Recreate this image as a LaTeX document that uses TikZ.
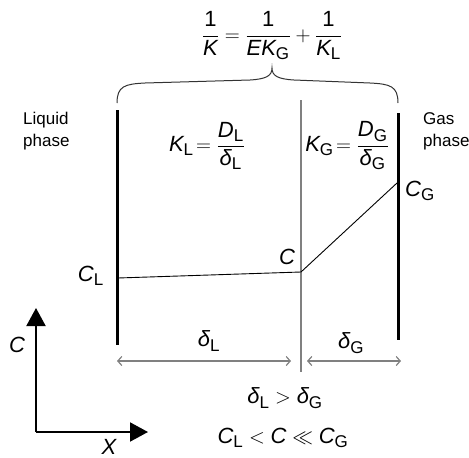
\documentclass[tikz,border=0pt]{standalone}
\usepackage{fontspec}
\setmainfont{Liberation Sans}
\usetikzlibrary{arrows.meta,positioning}
\DeclareMathSizes{22}{22}{17}{13}
\definecolor{filmgray}{HTML}{808080}
\definecolor{braceink}{HTML}{333333}
\newcommand{\dlt}{\mbox{\itshape δ}}
\tikzset{
  wall/.style={line width=3pt,draw=black},
  film/.style={line width=1.4pt,draw=filmgray},
  profile/.style={line width=0.9pt,draw=black},
  bracepath/.style={line width=1pt,draw=braceink},
  widtharr/.style={{Straight Barb[length=4pt,width=9pt]}-{Straight Barb[length=4pt,width=9pt]},
                   line width=1.2pt,draw=filmgray},
  axis/.style={-{Triangle[length=18pt,width=19pt]},line width=2pt,draw=black},
  phase/.style={align=left,font=\fontsize{17}{22}\selectfont,inner sep=0pt},
  lbl/.style={font=\fontsize{22}{26}\selectfont,inner sep=0pt}
}

\begin{document}
\begin{tikzpicture}[x=1pt,y=-1pt]
    \useasboundingbox (0,0) rectangle (469,458);

    \coordinate (ltop) at (117,110);
    \coordinate (lbot) at (117,345);
    \coordinate (rtop) at (398,113);
    \coordinate (rbot) at (398,340);
    \coordinate (mtop) at (301,100);
    \coordinate (mbot) at (301,372);
    \draw[wall] (ltop) -- (lbot);
    \draw[wall] (rtop) -- (rbot);
    \draw[film] (mtop) -- (mbot);

    \coordinate (pl) at (118,278);
    \coordinate (pc) at (301,272);
    \coordinate (pg) at (397,183);
    \draw[profile] (pl) -- (pc) -- (pg);

    \draw[bracepath] (117,103) .. controls (117,86) and (125,84) .. (145,83)
      -- (250,80) .. controls (266,79) and (272,76) .. (272,68)
      .. controls (272,76) and (278,79) .. (294,80)
      -- (370,83) .. controls (390,84) and (398,86) .. (398,103);

    \node[lbl] (overall) at (272,36)
      {$\displaystyle\frac{\mathrm{1}}{\mathit{K}}=\frac{\mathrm{1}}{\mathit{EK}_{\mathrm{G}}}+\frac{\mathrm{1}}{\mathit{K}_{\mathrm{L}}}$};
    \node[phase,anchor=west] (liquid) at (23,131) {Liquid\\phase};
    \node[phase,anchor=west] (gas) at (423,131) {Gas\\phase};
    \node[lbl] (kl) at (207,146)
      {$\displaystyle\mathit{K}_{\mathrm{L}}\!=\frac{\mathit{D}_{\mathrm{L}}}{\dlt_{\mathrm{L}}}$};
    \node[lbl] (kg) at (347,146)
      {$\displaystyle\mathit{K}_{\mathrm{G}}\!=\frac{\mathit{D}_{\mathrm{G}}}{\dlt_{\mathrm{G}}}$};
    \node[lbl,anchor=east] (cl) at (104,276) {$\mathit{C}_{\mathrm{L}}$};
    \node[lbl] (c) at (287,257) {$\mathit{C}$};
    \node[lbl,anchor=west] (cg) at (405,191) {$\mathit{C}_{\mathrm{G}}$};

    \coordinate (dla) at (117,361);
    \coordinate (dlb) at (291,361);
    \coordinate (dga) at (307,361);
    \coordinate (dgb) at (401,361);
    \draw[widtharr] (dla) -- (dlb);
    \draw[widtharr] (dga) -- (dgb);
    \node[lbl] (dl) at (209,341) {$\dlt_{\mathrm{L}}$};
    \node[lbl] (dg) at (351,343) {$\dlt_{\mathrm{G}}$};
    \node[lbl] (ineq) at (285,398) {$\dlt_{\mathrm{L}} > \dlt_{\mathrm{G}}$};
    \node[lbl] (order) at (283,438)
      {$\mathit{C}_{\mathrm{L}} < \mathit{C} \ll \mathit{C}_{\mathrm{G}}$};

    \coordinate (origin) at (36,432);
    \coordinate (ctip) at (36,308);
    \coordinate (xtip) at (148,432);
    \draw[axis] (origin) -- (ctip);
    \draw[axis] (origin) -- (xtip);
    \node[lbl] (caxis) at (17,345) {$\mathit{C}$};
    \node[lbl] (xaxis) at (109,447) {$\mathit{X}$};
  \end{tikzpicture}
\end{document}
